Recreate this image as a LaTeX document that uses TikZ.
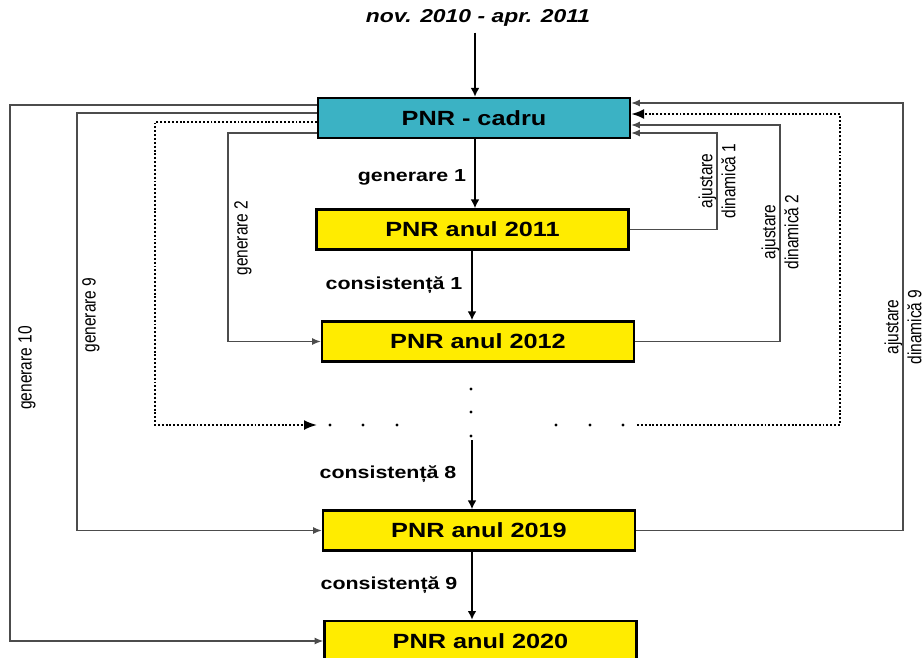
\documentclass[tikz,border=0pt]{standalone}
\usepackage{fontspec}
\setmainfont{Liberation Sans}
\newfontfamily\widefont[FakeStretch=1.23]{Liberation Sans}
\newfontfamily\narrowfont[FakeStretch=0.81]{Liberation Sans}
\usetikzlibrary{arrows.meta,calc,positioning}
\definecolor{pnryellow}{RGB}{255,236,0}
\definecolor{pnrcyan}{RGB}{59,178,196}
\tikzset{
  pnrbox/.style={draw,line width=1.4pt,minimum width=6.24cm,minimum height=0.8cm,inner sep=0pt,
    font=\widefont\bfseries\fontsize{11.7}{14}\selectfont},
  steplbl/.style={font=\widefont\bfseries\fontsize{9.9}{12}\selectfont},
  sidelbl/.style={rotate=90,align=center,font=\narrowfont\fontsize{10.9}{13}\selectfont},
  flow/.style={line width=1.1pt,-{Latex[length=5pt,width=5pt]}},
  link/.style={black!70,line width=0.7pt,-{Latex[length=5pt,width=4pt]}},
  dotlink/.style={line width=1.1pt,dash pattern=on 1.1pt off 1.1pt,-{Latex[length=7.4pt,width=5.7pt]}},
}

\begin{document}
\begin{tikzpicture}[x=0.02cm,y=-0.02cm]
\useasboundingbox (0,0) rectangle (924,657);
\clip (0,0) rectangle (924,657);
% boxes
\node[pnrbox,fill=pnrcyan] (cadru) at (474,118) {PNR - cadru};
\node[pnrbox,fill=pnryellow] (y2011) at (472.5,229.5) {PNR anul 2011};
\node[pnrbox,fill=pnryellow] (y2012) at (478,341.5) {PNR anul 2012};
\node[pnrbox,fill=pnryellow] (y2019) at (479,530.5) {PNR anul 2019};
\node[pnrbox,fill=pnryellow] (y2020) at (480.5,641) {PNR anul 2020};
% labels
\node[font=\widefont\bfseries\itshape\fontsize{10.6}{12}\selectfont] (period) at (478,18) {nov. 2010 - apr. 2011};
\node[steplbl] (lgen1) at (412,177) {generare 1};
\node[steplbl] (lcons1) at (394,285) {consistență 1};
\node[steplbl] (lcons8) at (388,474) {consistență 8};
\node[steplbl] (lcons9) at (389,585) {consistență 9};
\node[sidelbl] (lgen2) at (243,238) {generare 2};
\node[sidelbl] (lgen9) at (91,315) {generare 9};
\node[sidelbl] (lgen10) at (27,368) {generare 10};
\node[sidelbl] (ladj1) at (717,181) {ajustare\\dinamică 1};
\node[sidelbl] (ladj2) at (780,232) {ajustare\\dinamică 2};
\node[sidelbl] (ladj9) at (903,327) {ajustare\\dinamică 9};
% main chain
\coordinate (axisA) at (475,0);
\coordinate (axisB) at (472,0);
\coordinate (gap) at (472,440);
\draw[flow] (period.south -| axisA) -- (cadru.north -| axisA);
\draw[flow] (cadru.south -| axisA) -- (y2011.north -| axisA);
\draw[flow] (y2011.south -| axisB) -- (y2012.north -| axisB);
\draw[flow] (gap) -- (y2019.north -| gap);
\draw[flow] (y2019.south -| axisB) -- (y2020.north -| axisB);
\foreach \y in {389,412,436} \fill (471,\y) circle (0.9pt);
\foreach \x in {330,363,397,556,590,623} \fill (\x,425) circle (0.9pt);
% generare
\draw[link] (cadru.west |- 0,133) -- (228,133) |- (y2012.west);
\draw[link] (cadru.west |- 0,113) -- (77,113) |- (y2019.west);
\draw[link] (cadru.west |- 0,105) -- (10,105) |- (y2020.west);
\draw[dotlink] (cadru.west |- 0,122) -- (155,122) -- (155,425) -- (317,425);
% ajustare
\draw[link] (y2011.east) -| (717,133) -- (cadru.east |- 0,133);
\draw[link] (y2012.east) -| (780,125) -- (cadru.east |- 0,125);
\draw[link] (y2019.east) -| (903,103) -- (cadru.east |- 0,103);
\draw[dotlink] (637,425) -- (840,425) -- (840,114) -- (cadru.east |- 0,114);
\end{tikzpicture}
\end{document}
